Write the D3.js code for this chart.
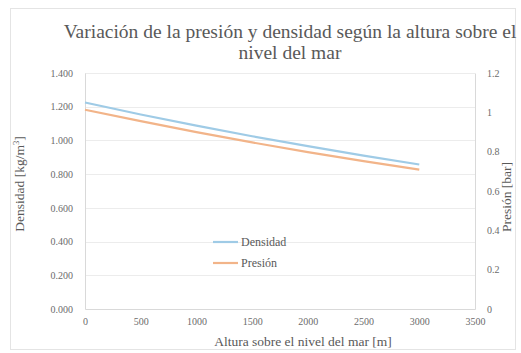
<!DOCTYPE html>
<html>
<head>
<meta charset="utf-8">
<script src="https://cdn.jsdelivr.net/npm/d3@7"></script>
<style>
  html, body { margin: 0; padding: 0; background: #fff; }
  svg { display: block; }
</style>
</head>
<body>
<div id="chart"></div>
<script>
// Altitude above sea level [m]
const altitudes = [0, 500, 1000, 1500, 2000, 2500, 3000];
// Air density [kg/m^3]
const densidad = [1.225, 1.154, 1.088, 1.025, 0.966, 0.910, 0.857];
// Air pressure [bar]
const presion = [1.013, 0.955, 0.899, 0.847, 0.798, 0.752, 0.709];

const xTicks = [0, 500, 1000, 1500, 2000, 2500, 3000, 3500];
const leftTicks = [0, 0.2, 0.4, 0.6, 0.8, 1.0, 1.2, 1.4];
const rightTicks = [0, 0.2, 0.4, 0.6, 0.8, 1, 1.2];

const titleLines = ["Variación de la presión y densidad según la altura sobre el", "nivel del mar"];
const xTitle = "Altura sobre el nivel del mar [m]";
const seriesNames = ["Densidad", "Presión"];
const colors = ["#9fcbe6", "#f2b489"];

const FONT = '"Liberation Serif"';
const W = 521, H = 353;
const plot = { left: 85, right: 475, top: 73, bottom: 309 };

const svg = d3.select("#chart").append("svg").attr("width", W).attr("height", H);

// chart area border
svg.append("rect").attr("x", 10.5).attr("y", 8.5).attr("width", W - 16).attr("height", H - 12)
  .attr("fill", "#fff").attr("stroke", "#e4e4e4");

const x = d3.scaleLinear().domain([0, 3500]).range([plot.left, plot.right]);
const yL = d3.scaleLinear().domain([0, 1.4]).range([plot.bottom, plot.top]);
const yR = d3.scaleLinear().domain([0, 1.2]).range([plot.bottom, plot.top]);

// horizontal gridlines
svg.append("g").selectAll("line").data(leftTicks.slice(1)).join("line")
  .attr("x1", plot.left).attr("x2", plot.right)
  .attr("y1", d => Math.round(yL(d)) + 0.5).attr("y2", d => Math.round(yL(d)) + 0.5)
  .attr("stroke", "#ececec").attr("stroke-width", 1);

// axes
const fmtL = d3.format(".3f");
const axisB = svg.append("g").attr("transform", `translate(0,${plot.bottom})`)
  .call(d3.axisBottom(x).tickValues(xTicks).tickSize(0).tickPadding(9).tickFormat(d3.format("d")));
const axisL = svg.append("g").attr("transform", `translate(${plot.left},0)`)
  .call(d3.axisLeft(yL).tickValues(leftTicks).tickSize(0).tickPadding(12).tickFormat(fmtL));
const axisR = svg.append("g").attr("transform", `translate(${plot.right},0)`)
  .call(d3.axisRight(yR).tickValues(rightTicks).tickSize(0).tickPadding(12).tickFormat(d => d3.format("")(+d.toFixed(1))));

[axisB, axisL, axisR].forEach(g => {
  g.attr("font-size", 10);
  g.select(".domain").attr("stroke", "#d9d9d9");
  g.selectAll("text").attr("fill", "#6b6b6b");
});

// series lines
const line = y => d3.line().x((d, i) => x(altitudes[i])).y(d => y(d));
svg.append("path").datum(densidad).attr("d", line(yL))
  .attr("fill", "none").attr("stroke", colors[0]).attr("stroke-width", 2.2);
svg.append("path").datum(presion).attr("d", line(yR))
  .attr("fill", "none").attr("stroke", colors[1]).attr("stroke-width", 2.2);

// title
const title = svg.append("text").attr("text-anchor", "middle").attr("font-size", 19.5).attr("fill", "#595959");
titleLines.forEach((t, i) => title.append("tspan").attr("x", 290).attr("y", 38 + i * 21).text(t));

// axis titles
svg.append("text").attr("x", 303).attr("y", 346).attr("text-anchor", "middle")
  .attr("font-size", 13.5).attr("fill", "#595959").text(xTitle);
const yTitleL = svg.append("text").attr("transform", "translate(24,184) rotate(-90)")
  .attr("text-anchor", "middle").attr("font-size", 13.5).attr("fill", "#595959");
yTitleL.append("tspan").text("Densidad [kg/m");
yTitleL.append("tspan").attr("baseline-shift", "super").attr("font-size", 8.5).text("3");
yTitleL.append("tspan").text("]");
svg.append("text").attr("transform", "translate(511,197) rotate(-90)")
  .attr("text-anchor", "middle").attr("font-size", 13.5).attr("fill", "#595959").text("Presión [bar]");

// legend
const legend = svg.append("g");
seriesNames.forEach((name, i) => {
  const ly = 242 + i * 21;
  legend.append("line").attr("x1", 213).attr("x2", 238).attr("y1", ly).attr("y2", ly)
    .attr("stroke", colors[i]).attr("stroke-width", 2.2);
  legend.append("text").attr("x", 241).attr("y", ly + 4).attr("font-size", 12)
    .attr("fill", "#595959").text(name);
});

// serif face on every label
svg.selectAll("text").style("font-family", FONT);
</script>
</body>
</html>
